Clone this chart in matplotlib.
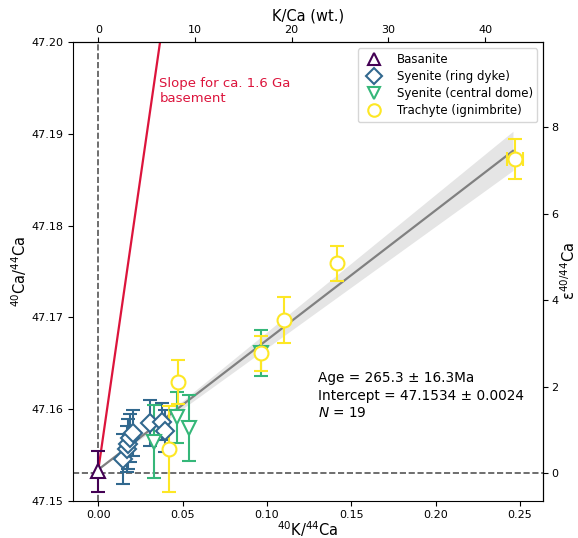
import numpy as np
import matplotlib
matplotlib.use('Agg')
import matplotlib.pyplot as plt

# 40K/44Ca, 40Ca/44Ca, 2 s.e.
bas_x = [0.0]
bas_y = [47.1532]
bas_e = [0.0022]

ring_x = [0.0148, 0.0168, 0.0176, 0.0188, 0.0207, 0.0306, 0.0376, 0.0395]
ring_y = [47.15455, 47.15564, 47.15618, 47.15684, 47.15742, 47.15851, 47.15862, 47.15764]
ring_e = [0.0027, 0.0025, 0.0027, 0.0026, 0.0025, 0.0025, 0.0020, 0.0023]

dome_x = [0.0331, 0.0468, 0.0538, 0.0963]
dome_y = [47.15644, 47.1591, 47.1579, 47.16614]
dome_e = [0.0040, 0.0028, 0.0036, 0.0025]

tra_x = [0.0419, 0.0470, 0.0963, 0.1103, 0.1417, 0.2470]
tra_y = [47.1556, 47.1629, 47.1661, 47.1697, 47.1759, 47.1873]
tra_e = [0.0047, 0.0024, 0.0019, 0.0025, 0.0019, 0.0022]
tra_xe = [0, 0, 0, 0, 0, 0.0047]

intercept = 47.1534
slope = 0.1414
slope_err = 0.0087
slope_16 = 1.2746
ref_ratio = 47.153
kca_factor = 174.5

cols = plt.cm.viridis(np.linspace(0, 1, 4))

fig = plt.figure(figsize=(5.78, 5.38), dpi=100)
ax = fig.add_axes([0.1258, 0.0693, 0.8142, 0.8521])

ax.axvline(0, color='#555555', ls='--', lw=1.2, zorder=1)
ax.axhline(ref_ratio, color='#555555', ls='--', lw=1.2, zorder=1)

# 1.6 Ga reference line
xx = np.array([0, 0.06])
ax.plot(xx, intercept + slope_16 * xx, color='crimson', lw=1.6, zorder=2)
ax.text(0.0362, 47.1962, 'Slope for ca. 1.6 Ga\nbasement', color='crimson',
        fontsize=9.5, va='top', ha='left')

# regression + band
xf = np.linspace(0, 0.2458, 50)
ax.fill_between(xf, intercept + (slope - slope_err) * xf, intercept + (slope + slope_err) * xf,
                color='#e5e5e5', lw=0, zorder=1)
ax.plot(xf, intercept + slope * xf, color='grey', lw=1.6, zorder=2)

kw = dict(ls='none', capsize=5, elinewidth=1.5, capthick=1.5, markersize=10,
          markeredgewidth=1.5, markerfacecolor='white', zorder=3)
ax.errorbar(bas_x, bas_y, yerr=bas_e, marker='^', color=cols[0], label='Basanite', **kw)
ax.errorbar(ring_x, ring_y, yerr=ring_e, marker='D', color=cols[1], label='Syenite (ring dyke)',
            **dict(kw, markersize=9))
ax.errorbar(dome_x, dome_y, yerr=dome_e, marker='v', color=cols[2], label='Syenite (central dome)', **kw)
ax.errorbar(tra_x, tra_y, yerr=tra_e, xerr=tra_xe, marker='o', color=cols[3],
            label='Trachyte (ignimbrite)', **kw)

ax.set_xlim(-0.0152, 0.2638)
ax.set_ylim(47.15, 47.20)
ax.set_yticks([47.15, 47.16, 47.17, 47.18, 47.19, 47.20])
ax.set_xticks([0, 0.05, 0.10, 0.15, 0.20, 0.25])
ax.tick_params(labelsize=8, pad=3)
ax.set_xlabel('$^{40}$K/$^{44}$Ca', fontsize=10.5, labelpad=0)
ax.set_ylabel('$^{40}$Ca/$^{44}$Ca', fontsize=10.5, labelpad=2)

handles, labels = ax.get_legend_handles_labels()
handles = [h[0] for h in handles]
ax.legend(handles, labels, loc='upper right', fontsize=8.5, borderaxespad=0.5,
          labelspacing=0.35, markerscale=0.9, handletextpad=0.9)

ax.text(0.1305, 47.1641, 'Age = 265.3 \u00b1 16.3Ma\nIntercept = 47.1534 \u00b1 0.0024\n$N$ = 19',
        fontsize=9.8, va='top', ha='left', linespacing=1.3)

top = ax.secondary_xaxis('top', functions=(lambda x: x * kca_factor, lambda k: k / kca_factor))
top.set_xlabel('K/Ca (wt.)', fontsize=10.5, labelpad=3)
top.tick_params(labelsize=8, pad=2)

right = ax.secondary_yaxis('right', functions=(lambda r: (r / ref_ratio - 1) * 1e4,
                                               lambda e: (e / 1e4 + 1) * ref_ratio))
right.set_yticks([0, 2, 4, 6, 8])
right.set_ylabel('ε$^{40/44}$Ca', fontsize=10.5, labelpad=1)
right.tick_params(labelsize=8, pad=2)

fig.savefig('out.png', dpi=100)
